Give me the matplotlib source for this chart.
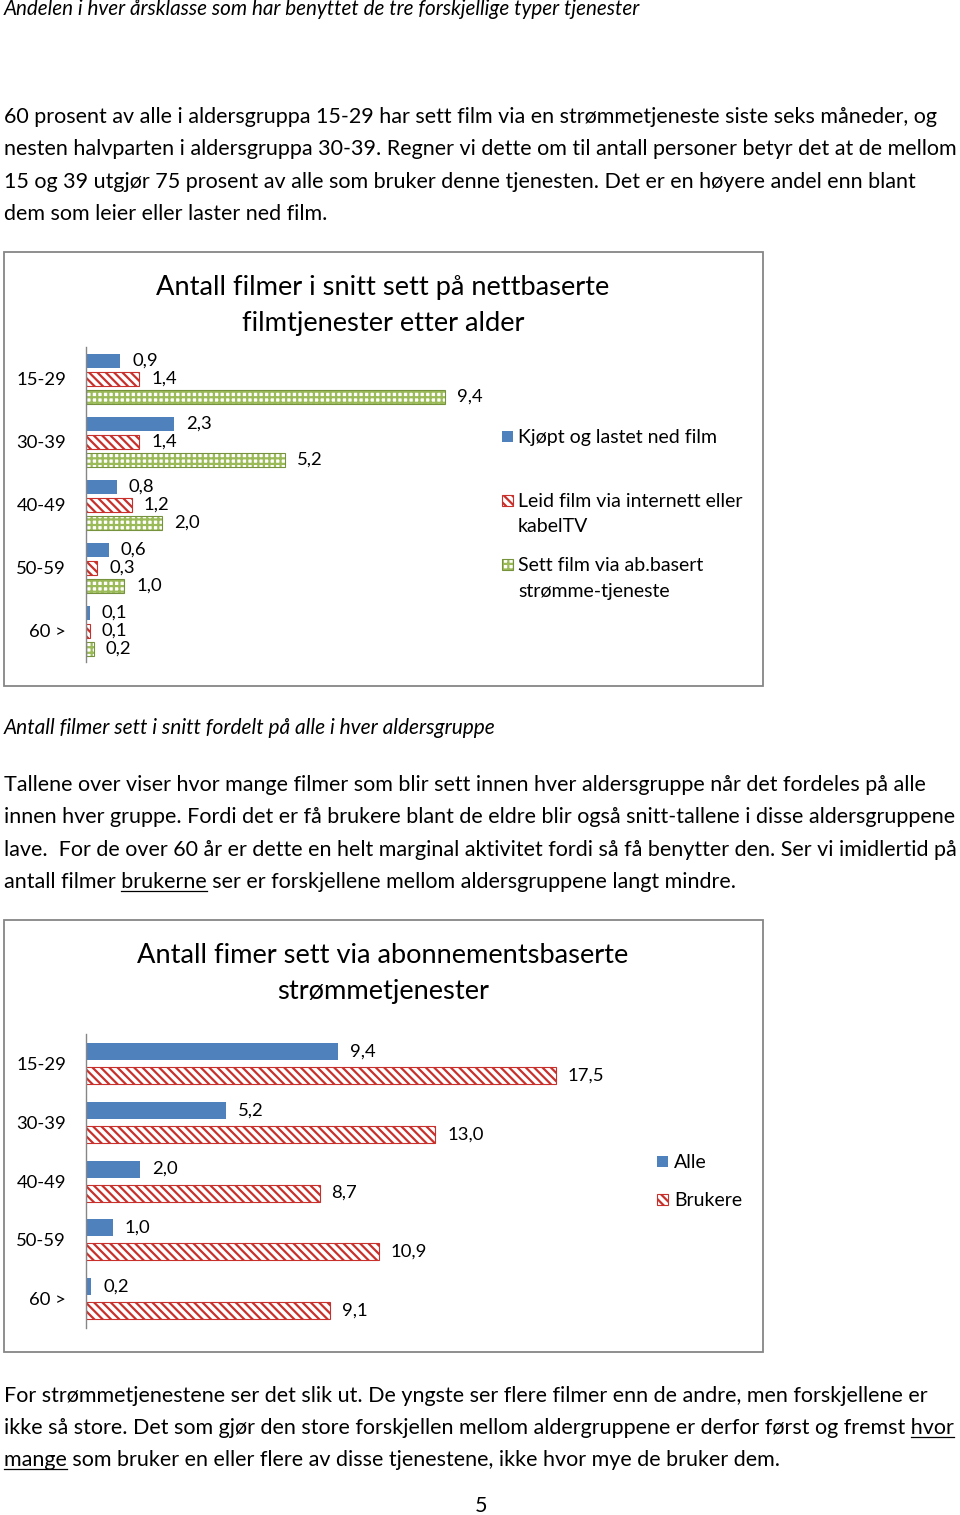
import matplotlib
matplotlib.use('Agg')
import matplotlib.pyplot as plt
from matplotlib.patches import Rectangle
from matplotlib.lines import Line2D
from matplotlib.font_manager import FontProperties
import numpy as np

# ---------------- data ----------------
age_groups = ['15-29', '30-39', '40-49', '50-59', '60 >']
kjopt = [0.9, 2.3, 0.8, 0.6, 0.1]
leid = [1.4, 1.4, 1.2, 0.3, 0.1]
stromme = [9.4, 5.2, 2.0, 1.0, 0.2]
chart1_title = 'Antall filmer i snitt sett på nettbaserte\nfilmtjenester etter alder'
chart1_series = ['Kjøpt og lastet ned film',
                 'Leid film via internett eller\nkabelTV',
                 'Sett film via ab.basert\nstrømme-tjeneste']

alle = [9.4, 5.2, 2.0, 1.0, 0.2]
brukere = [17.5, 13.0, 8.7, 10.9, 9.1]
chart2_title = 'Antall fimer sett via abonnementsbaserte\nstrømmetjenester'
chart2_series = ['Alle', 'Brukere']

header = 'Andelen i hver årsklasse som har benyttet de tre forskjellige typer tjenester'
para1 = ['60 prosent av alle i aldersgruppa 15-29 har sett film via en strømmetjeneste siste seks måneder, og',
         'nesten halvparten i aldersgruppa 30-39. Regner vi dette om til antall personer betyr det at de mellom',
         '15 og 39 utgjør 75 prosent av alle som bruker denne tjenesten. Det er en høyere andel enn blant',
         'dem som leier eller laster ned film.']
caption = 'Antall filmer sett i snitt fordelt på alle i hver aldersgruppe'
para2 = ['Tallene over viser hvor mange filmer som blir sett innen hver aldersgruppe når det fordeles på alle',
         'innen hver gruppe. Fordi det er få brukere blant de eldre blir også snitt-tallene i disse aldersgruppene',
         'lave.  For de over 60 år er dette en helt marginal aktivitet fordi så få benytter den. Ser vi imidlertid på',
         'antall filmer brukerne ser er forskjellene mellom aldersgruppene langt mindre.']
para2_underline = [None, None, None, 'brukerne']
para3 = ['For strømmetjenestene ser det slik ut. De yngste ser flere filmer enn de andre, men forskjellene er',
         'ikke så store. Det som gjør den store forskjellen mellom aldergruppene er derfor først og fremst hvor',
         'mange som bruker en eller flere av disse tjenestene, ikke hvor mye de bruker dem.']
para3_underline = [None, 'hvor', 'mange']
page_number = '5'

# ---------------- style ----------------
W, H, DPI = 960, 1515, 100
plt.rcParams['font.family'] = ['Lato', 'DejaVu Sans']
plt.rcParams['hatch.linewidth'] = 1.6
BLUE = '#4F81BD'
RED = '#C8302C'
GREEN = '#9BBB59'
OLIVE = '#76923C'
GRAY = '#868686'
BODY = 15.45
ITAL = 14.9
TITLE = 19.6
TICK = 13.3
LEG = 14.0
HATCH_RED = '\\' * 4
HATCH_GREEN = '+++'

fig = plt.figure(figsize=(W / DPI, H / DPI), dpi=DPI)
renderer = fig.canvas.get_renderer()


def fx(x):
    return x / W


def fy(y):
    return 1 - y / H


def text_width(s, size, style='normal'):
    fp = FontProperties(family=['Lato'], size=size, style=style)
    w, h, d = renderer.get_text_width_height_descent(s, fp, ismath=False)
    return w


def line(y, s, size=BODY, style='normal', underline=None, x=4):
    fig.text(fx(x), fy(y), s, fontsize=size, style=style, va='baseline', ha='left', color='black')
    if underline:
        i = s.index(underline)
        end = x + text_width(s[:i + len(underline)], size)
        start = end - text_width(underline, size)
        fig.add_artist(Line2D([fx(start), fx(end)], [fy(y + 3)] * 2,
                              transform=fig.transFigure, color='black', lw=0.9))


def frame(x0, y0, x1, y1):
    fig.add_artist(Rectangle((fx(x0), fy(y1)), (x1 - x0) / W, (y1 - y0) / H,
                             transform=fig.transFigure, fill=False, edgecolor=GRAY, lw=1.3))


def swatch(x, y, kind):
    s = 11
    if kind == 'blue':
        fig.add_artist(Rectangle((fx(x), fy(y + 5)), s / W, s / H, transform=fig.transFigure,
                                 facecolor=BLUE, edgecolor='none'))
    elif kind == 'red':
        fig.add_artist(Rectangle((fx(x), fy(y + 5)), s / W, s / H, transform=fig.transFigure,
                                 facecolor='white', edgecolor=RED, hatch=HATCH_RED, lw=0.8))
    else:
        fig.add_artist(Rectangle((fx(x), fy(y + 5)), s / W, s / H, transform=fig.transFigure,
                                 facecolor='white', edgecolor=GREEN, hatch=HATCH_GREEN, lw=0))
        fig.add_artist(Rectangle((fx(x), fy(y + 5)), s / W, s / H, transform=fig.transFigure,
                                 fill=False, edgecolor=OLIVE, lw=0.8))


def fmt(v):
    return f'{v:.1f}'.replace('.', ',')


def label_bars(ax, vals, ys, size):
    for v, yy in zip(vals, ys):
        ax.annotate(fmt(v), (v, yy), xytext=(12 * 72 / DPI, 0), textcoords='offset points',
                    ha='left', va='center', fontsize=size, color='black', annotation_clip=False)


def style_axes(ax):
    for s in ['top', 'right', 'bottom']:
        ax.spines[s].set_visible(False)
    ax.spines['left'].set_color(GRAY)
    ax.spines['left'].set_linewidth(1.0)
    ax.set_xticks([])
    ax.tick_params(axis='y', length=0, pad=20 * 72 / DPI, labelsize=TICK)
    ax.set_facecolor('none')


# ---------------- text ----------------
line(15, header, size=ITAL, style='italic')
for i, s in enumerate(para1):
    line(123 + i * 32.4, s)
line(734, caption, size=15, style='italic')
for i, s in enumerate(para2):
    line(791 + i * 32.4, s, underline=para2_underline[i])
for i, s in enumerate(para3):
    line(1402 + i * 32.2, s, underline=para3_underline[i])
fig.text(fx(481), fy(1512), page_number, fontsize=BODY, ha='center', va='baseline')

# ---------------- chart 1 ----------------
frame(4, 252, 763, 686)
fig.text(fx(383), fy(295), chart1_title.split('\n')[0], fontsize=TITLE, ha='center', va='baseline')
fig.text(fx(383), fy(331), chart1_title.split('\n')[1], fontsize=TITLE, ha='center', va='baseline')

ax1 = fig.add_axes([fx(86), fy(662), 382 / W, 315 / H])
y = np.arange(len(age_groups))
off1 = 18 / 63
h1 = 14 / 63
ax1.barh(y - off1, kjopt, height=h1, color=BLUE, edgecolor='none')
ax1.barh(y, leid, height=h1, color='white', edgecolor=RED, hatch=HATCH_RED, lw=0.8)
ax1.barh(y + off1, stromme, height=h1, color='white', edgecolor=GREEN, hatch=HATCH_GREEN, lw=0)
ax1.barh(y + off1, stromme, height=h1, fill=False, edgecolor=OLIVE, lw=0.8)
ax1.set_xlim(0, 10)
ax1.set_ylim(len(age_groups) - 0.5, -0.5)
ax1.set_yticks(y)
ax1.set_yticklabels(age_groups)
style_axes(ax1)
label_bars(ax1, kjopt, y - off1, TICK)
label_bars(ax1, leid, y, TICK)
label_bars(ax1, stromme, y + off1, TICK)

# legend chart 1
leg_y = [[437], [501, 526], [565, 591]]
kinds = ['blue', 'red', 'green']
for lab, ys, kind in zip(chart1_series, leg_y, kinds):
    swatch(502, ys[0], kind)
    for yy, part in zip(ys, lab.split('\n')):
        fig.text(fx(518), fy(yy + 6), part, fontsize=LEG, ha='left', va='baseline')

# ---------------- chart 2 ----------------
frame(4, 920, 763, 1352)
fig.text(fx(383), fy(963), chart2_title.split('\n')[0], fontsize=TITLE, ha='center', va='baseline')
fig.text(fx(383), fy(999), chart2_title.split('\n')[1], fontsize=TITLE, ha='center', va='baseline')

ax2 = fig.add_axes([fx(86), fy(1328), 537 / W, 294 / H])
off2 = 12 / 58.8
h2 = 17 / 58.8
ax2.barh(y - off2, alle, height=h2, color=BLUE, edgecolor='none')
ax2.barh(y + off2, brukere, height=h2, color='white', edgecolor=RED, hatch=HATCH_RED, lw=0.8)
ax2.set_xlim(0, 20)
ax2.set_ylim(len(age_groups) - 0.5, -0.5)
ax2.set_yticks(y)
ax2.set_yticklabels(age_groups)
style_axes(ax2)
label_bars(ax2, alle, y - off2, TICK)
label_bars(ax2, brukere, y + off2, TICK)

for lab, yy, kind in zip(chart2_series, [1162, 1200], ['blue', 'red']):
    swatch(657, yy, kind)
    fig.text(fx(674), fy(yy + 6), lab, fontsize=LEG, ha='left', va='baseline')

fig.savefig('out.png', dpi=DPI, facecolor='white')
